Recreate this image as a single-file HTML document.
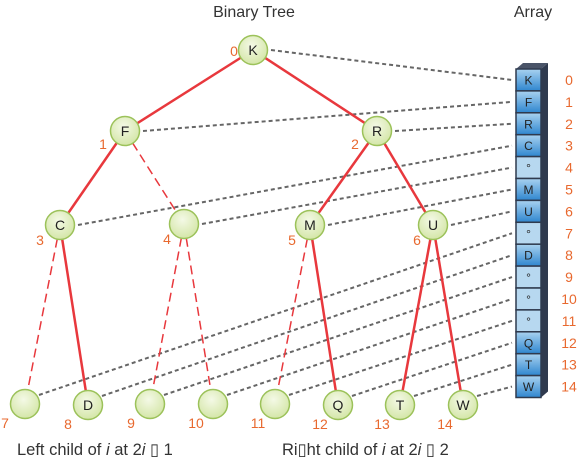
<!DOCTYPE html>
<html><head><meta charset="utf-8"><style>
body{margin:0;background:#fff}
svg{display:block;font-family:"Liberation Sans",sans-serif}
</style></head><body>
<svg id="c" width="578" height="460" viewBox="0 0 578 460">
<defs>
<radialGradient id="ng" cx="45%" cy="35%" r="65%"><stop offset="0" stop-color="#f4f9e6"/><stop offset="1" stop-color="#d4e6a8"/></radialGradient>
<linearGradient id="cg" x1="0" y1="0" x2="0" y2="1"><stop offset="0" stop-color="#a9d2f0"/><stop offset="1" stop-color="#2f86cf"/></linearGradient>
</defs>
<text x="254" y="17" font-size="16" text-anchor="middle" fill="#333">Binary Tree</text>
<text x="533" y="17" font-size="16" text-anchor="middle" fill="#333">Array</text>
<g id="links"></g><g id="edges"></g><g id="arr"></g><g id="nodes"></g>
<text x="17" y="455" font-size="16.5" fill="#333">Left child of <tspan font-style="italic">i</tspan> at 2<tspan font-style="italic">i</tspan> ▯ 1</text>
<text x="282" y="455" font-size="16.5" fill="#333">Ri▯ht child of <tspan font-style="italic">i</tspan> at 2<tspan font-style="italic">i</tspan> ▯ 2</text>
</svg>
<script>
const labels=["K","F","R","C","","M","U","","D","","","","Q","T","W"];
const arrayLabels=["K","F","R","C","°","M","U","°","D","°","°","°","Q","T","W"];
const present=[1,1,1,1,0,1,1,0,1,0,0,0,1,1,1];
const nx=[253,125,377,60,184,310,433,25,88,150,213,275,338,400,463];
const ny=[50,131,131,225,224,225,225,404,405,404,404,404,405,405,405];
const NS="http://www.w3.org/2000/svg";
function mk(t,a,p){const e=document.createElementNS(NS,t);for(const k in a)e.setAttribute(k,a[k]);p.appendChild(e);return e;}
const links=document.getElementById('links'),edges=document.getElementById('edges'),arr=document.getElementById('arr'),nodes=document.getElementById('nodes');
const cellX=516,cellW=25,cellTop=69,cellH=21.9;
function cy(i){return cellTop+cellH*(i+0.5);}
const side=mk('polygon',{points:`${cellX+cellW},${cellTop} ${cellX+cellW+7},${cellTop-6} ${cellX+cellW+7},${cellTop+cellH*15-6} ${cellX+cellW},${cellTop+cellH*15}`,fill:'#2f3a4e'},arr);


const topFace=mk('polygon',{points:`${cellX},${cellTop} ${cellX+7},${cellTop-6} ${cellX+cellW+7},${cellTop-6} ${cellX+cellW},${cellTop}`,fill:'#4a5468'},arr);


for(let i=0;i<15;i++){
 const r=mk('rect',{x:cellX,y:cellTop+cellH*i,width:cellW,height:cellH,fill:present[i]?'url(#cg)':'#b7d8f0',stroke:'#2f3a4e','stroke-width':1.5},arr);
 
 
 const t=mk('text',{x:cellX+cellW/2,y:cy(i)+4.5,'font-size':12,'text-anchor':'middle',fill:'#222'},arr);t.textContent=arrayLabels[i];
 
 
 const n=mk('text',{x:569,y:cy(i)+5,'font-size':14,'text-anchor':'middle',fill:'#e8692f'},arr);n.textContent=i;
 
 
 const bottom=i>=7;
 const l=mk('line',{x1:nx[i]+(bottom?14:18),y1:ny[i]-(bottom?9:0),x2:cellX-4,y2:cy(i),stroke:'#666','stroke-width':2,'stroke-dasharray':'4,3'},links);
 
 
}
for(let i=1;i<15;i++){
 const p=Math.floor((i-1)/2);
 const solid=present[i]&&present[p];
 const e=mk('line',{x1:nx[p],y1:ny[p],x2:nx[i],y2:ny[i],stroke:'#e8383d','stroke-width':solid?2.5:1.5},edges);
 if(!solid)e.setAttribute('stroke-dasharray','9,5');
 
 
}
const idxPos=[[-19,6],[-22,18],[-22,18],[-20,20],[-17,20],[-18,20],[-16,20],[-20,24],[-20,24],[-19,24],[-17,24],[-17,24],[-18,24],[-18,24],[-18,24]];
for(let i=0;i<15;i++){
 const c=mk('circle',{cx:nx[i],cy:ny[i],r:14.5,fill:'url(#ng)',stroke:'#9cc25a','stroke-width':1.5},nodes);
 
 
 if(labels[i]){const t=mk('text',{x:nx[i],y:ny[i]+5,'font-size':14,'text-anchor':'middle',fill:'#222'},nodes);t.textContent=labels[i];
 
 }
 const n=mk('text',{x:nx[i]+idxPos[i][0],y:ny[i]+idxPos[i][1],'font-size':14,'text-anchor':'middle',fill:'#e8692f'},nodes);n.textContent=i;
 
 
}
</script>
</body></html>
